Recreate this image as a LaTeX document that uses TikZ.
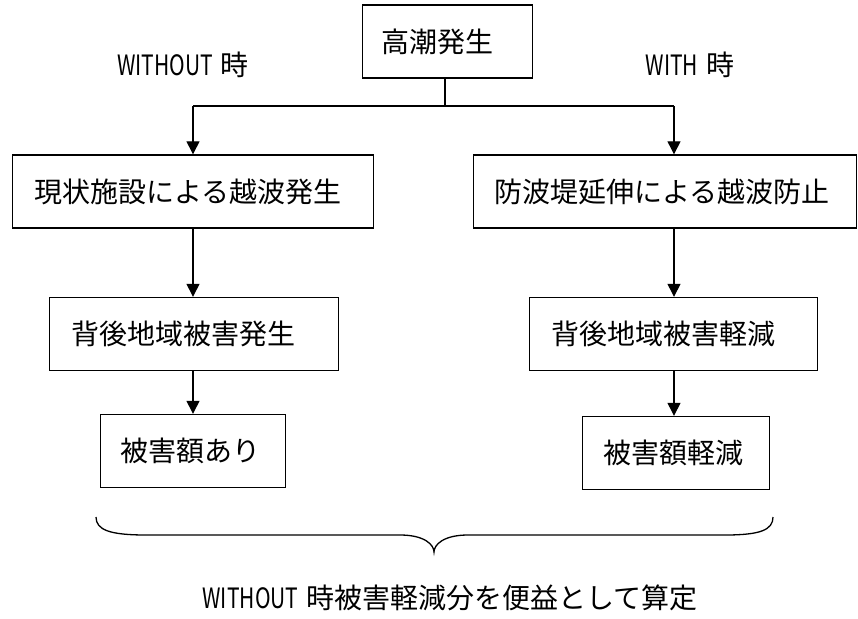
\documentclass[tikz,border=0pt]{standalone}
\usepackage{fontspec}
\usepackage{graphicx}
\setmainfont{Noto Sans CJK JP}
\usetikzlibrary{arrows.meta}
\newcommand\latn[1]{\scalebox{0.75}[1]{#1}}
\begin{document}
\begin{tikzpicture}[x=1pt,y=-1pt,
  box/.style={draw, line width=1.4pt, inner ysep=0pt, minimum height=73pt, align=left, anchor=west, font=\fontsize{28}{31}\selectfont},
  conn/.style={line width=1.3pt},
  arr/.style={line width=1.3pt, -{Triangle[length=13pt,width=13pt]}},
  lab/.style={font=\fontsize{28}{31}\selectfont, inner sep=0pt}]
\useasboundingbox (0,0) rectangle (858,618);
\fill[white] (0,0) rectangle (858,618);

\node[box, inner xsep=19pt, text width=132pt] (top) at (362,41.5) {高潮発生};
\node[box, inner xsep=22pt, text width=317pt] (L1) at (12,191.5) {現状施設による越波発生};
\node[box, inner xsep=21pt, text width=341pt] (R1) at (473,191.5) {防波堤延伸による越波防止};
\node[box, inner xsep=22pt, text width=245pt] (L2) at (49,334) {背後地域被害発生};
\node[box, inner xsep=22pt, text width=244pt] (R2) at (529,334) {背後地域被害軽減};
\node[box, inner xsep=20pt, text width=145pt] (L3) at (100,451) {被害額あり};
\node[box, inner xsep=21pt, text width=145pt] (R3) at (582,453) {被害額軽減};

\node[lab] (wo) at (183,65) {\latn{WITHOUT}\hspace{8pt}時};
\node[lab] (wi) at (690,65) {\latn{WITH}\hspace{8pt}時};
\node[lab] (bt) at (450,598) {\latn{WITHOUT}\hspace{8pt}時被害軽減分を便益として算定};

\coordinate (j) at (445,106);
\coordinate (jl) at (193,106);
\coordinate (jr) at (674,106);
\draw[conn] (top.south -| j) -- (j);
\draw[conn] (jl) -- (jr);
\draw[arr] (jl) -- (jl |- L1.north);
\draw[arr] (jr) -- (jr |- R1.north);
\draw[arr] (L1.south -| jl) -- (L2.north -| jl);
\draw[arr] (L2.south -| jl) -- (L3.north -| jl);
\draw[arr] (R1.south -| jr) -- (R2.north -| jr);
\draw[arr] (R2.south -| jr) -- (R3.north -| jr);

\draw[conn] (96,517) .. controls (96,530) and (110,535) .. (146,535) -- (400,535)
  .. controls (425,535) and (434,545) .. (434,552)
  .. controls (434,545) and (443,535) .. (468,535) -- (725,535)
  .. controls (760,535) and (773,530) .. (773,517);
\end{tikzpicture}
\end{document}
